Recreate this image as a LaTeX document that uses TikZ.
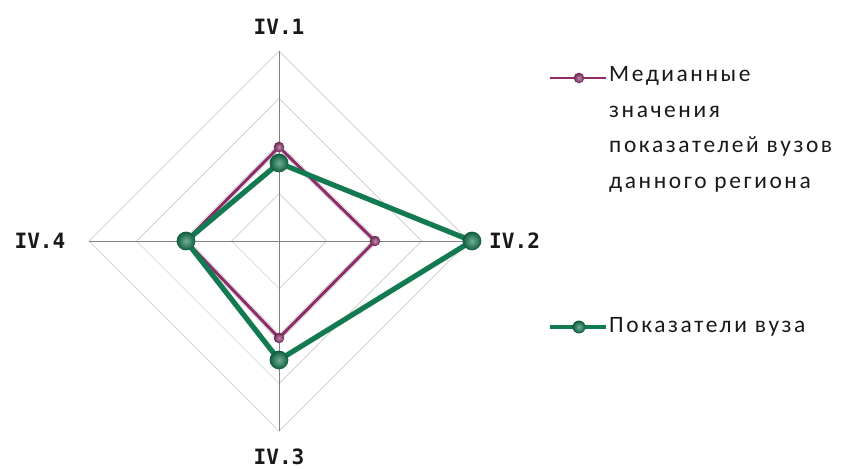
\documentclass[tikz,border=0pt]{standalone}
\usepackage{fontspec}
\setmainfont{Carlito}[LetterSpace=11]
\newfontfamily\axisfont{DejaVu Sans Mono}
\usetikzlibrary{positioning}

\definecolor{medcol}{HTML}{8E2D6A}
\definecolor{vuzcol}{HTML}{127A50}

\begin{document}
\begin{tikzpicture}[x=0.03cm, y=0.03cm,
    gridline/.style={draw=black!20, line width=0.6pt},
    axisline/.style={draw=black!50, line width=0.7pt},
    axislabel/.style={font=\axisfont\bfseries\fontsize{18}{20}\selectfont, inner sep=0pt, text=black!90},
    medline/.style={draw=medcol, line width=2.5pt, line join=round},
    vuzline/.style={draw=vuzcol, line width=4.3pt, line join=round},
    shadowline/.style={draw=black, opacity=0.12, line width=5pt, line join=round},
    medmark/.style={circle, inner sep=0pt, minimum size=9pt, shading=radial,
        inner color=medcol!55!white, outer color=medcol!75!black},
    vuzmark/.style={circle, inner sep=0pt, minimum size=16pt, shading=radial,
        inner color=vuzcol!60!white, outer color=vuzcol!75!black},
    legtext/.style={font=\fontsize{20}{30.5}\selectfont, inner sep=0pt, align=left, text=black!90}]
    \useasboundingbox (0,0) rectangle (849,468);

    % Axes ends {a1 top, a2 right, a3 bottom, a4 left}
    \coordinate (o)  at (279,227);
    \coordinate (a1) at (279,417);
    \coordinate (a2) at (469,227);
    \coordinate (a3) at (279,37);
    \coordinate (a4) at (89,227);

    % Grid
    \foreach \r in {47.5,95,142.5,190}
        \draw [gridline] (279,227+\r) -- (279+\r,227) -- (279,227-\r) -- (279-\r,227) -- cycle;
    \draw [axisline] (a1) -- (a3);
    \draw [axisline] (a2) -- (a4);

    % Axis labels
    \node [axislabel]              (l1) at (279,441) {IV.1};
    \node [axislabel, anchor=west] (l2) at (489,227) {IV.2};
    \node [axislabel]              (l3) at (279,11)  {IV.3};
    \node [axislabel]              (l4) at (40,227)  {IV.4};

    % Data points {m = median, g = vuz}
    \coordinate (m1) at (279,321);
    \coordinate (m2) at (375,227);
    \coordinate (m3) at (279,130);
    \coordinate (m4) at (186,227);
    \coordinate (g1) at (279,305);
    \coordinate (g2) at (472,227);
    \coordinate (g3) at (279,108);
    \coordinate (g4) at (186,227);

    % Shadows
    \draw [shadowline, xshift=3, yshift=-4] (m1) -- (m2) -- (m3) -- (m4) -- cycle;
    \draw [shadowline, xshift=3, yshift=-4] (g1) -- (g2) -- (g3) -- (g4) -- cycle;

    % Paths
    \draw [medline] (m1) -- (m2) -- (m3) -- (m4) -- cycle;
    \draw [vuzline] (g1) -- (g2) -- (g3) -- (g4) -- cycle;

    % Markers
    \foreach \p in {m1,m2,m3,m4}
        \node [medmark] (\p mark) at (\p) {};
    \foreach \p in {g1,g2,g3,g4}
        \node [vuzmark] (\p mark) at (\p) {};

    % Legend
    \coordinate (k1a) at (550,390);
    \coordinate (k1b) at (606,390);
    \coordinate (k2a) at (550,141);
    \coordinate (k2b) at (606,141);
    \draw [medline, line width=2pt] (k1a) -- (k1b);
    \node [medmark] (k1mark) at (579,390) {};
    \node [legtext, anchor=north west] (k1text) at (609,402)
        {Медианные\\значения\\показателей вузов\\данного региона};
    \draw [vuzline, line width=3pt] (k2a) -- (k2b);
    \node [vuzmark, minimum size=11pt] (k2mark) at (579,141) {};
    \node [legtext, anchor=west] (k2text) at (609,141) {Показатели вуза};
\end{tikzpicture}
\end{document}
